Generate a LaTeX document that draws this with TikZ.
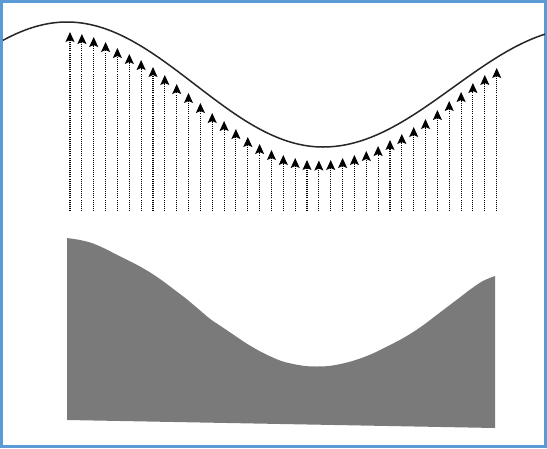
\documentclass[tikz,border=0pt]{standalone}
\usetikzlibrary{arrows.meta}
\definecolor{frameblue}{RGB}{91,155,213}
\begin{document}
\begin{tikzpicture}[x=1pt,y=-1pt,
  curveline/.style={line width=1.5pt, black!85},
  vec/.style={dash pattern=on 1pt off 1.1pt, line width=1.1pt, black, -{Stealth[length=10pt,width=9pt,inset=2pt]}},
  area/.style={fill=black!52}]
\useasboundingbox (0,0) rectangle (547,448);
\fill[white] (0,0) rectangle (547,448);
\draw[frameblue, line width=3pt] (1.5,1.5) rectangle (545.5,446.5);
% top curve
\draw[curveline] plot[domain=3:323, samples=90, smooth] (\x, {84.5-62.5*cos(0.703125*(\x-67))})
  -- plot[domain=323:545, samples=70, smooth] (\x, {87.5-59.5*cos(0.6923*(\x-323)+180)});
% vectors
\foreach \x/\y [count=\i] in {70/32, 81.9/34, 93.7/37, 105.6/42, 117.4/48, 129.3/54, 141.1/60, 153/67, 164.8/75, 176.7/84, 188.5/93, 200.4/103, 212.2/113, 224.1/121, 235.9/129, 247.8/137, 259.6/144, 271.5/150, 283.3/155, 295.2/158, 307/160, 318.9/160.5, 330.7/160, 342.6/158, 354.4/155, 366.3/151, 378.1/146, 390/140, 401.8/134, 413.7/127, 425.5/119, 437.4/110, 449.2/101, 461.1/92, 472.9/83, 484.8/75, 496.7/68}
{
  \coordinate (b\i) at (\x,211);
  \coordinate (t\i) at (\x,\y);
  \draw[vec] (b\i) -- (t\i);
}
% area
\fill[area] (67,420) -- plot[smooth] coordinates {(67,238) (79.9,240) (91.7,243) (103.6,248) (115.4,254) (127.3,260) (139.1,266) (151,273) (162.8,281) (174.7,290) (186.5,299) (198.4,309) (210.2,319) (222.1,327) (233.9,335) (245.8,343) (257.6,350) (269.5,356) (281.3,361) (293.2,364) (305,366) (316.9,366.5) (328.7,366) (340.6,364) (352.4,361) (364.3,357) (376.1,352) (388,346) (399.8,340) (411.7,333) (423.5,325) (435.4,316) (447.2,307) (459.1,298) (470.9,289) (482.8,281) (495,276)} -- (495,428) -- cycle;
\end{tikzpicture}
\end{document}
